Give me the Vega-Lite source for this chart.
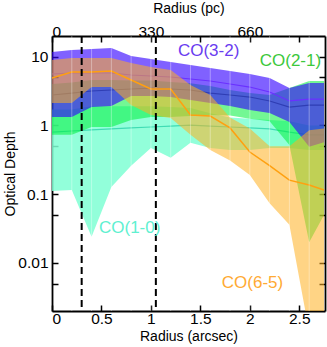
{
  "$schema": "https://vega.github.io/schema/vega-lite/v6.json",
  "width": 273,
  "height": 275,
  "autosize": "none",
  "padding": {"left": 52, "top": 36, "right": 2, "bottom": 36},
  "background": "white",
  "config": {
    "view": {"stroke": null},
    "axis": {
      "domainColor": "black", "domainWidth": 1.8,
      "tickColor": "black", "tickWidth": 1.5, "tickSize": -6,
      "labelFont": "Liberation Sans", "labelFontSize": 15.5, "labelColor": "black",
      "titleFont": "Liberation Sans", "titleFontSize": 14, "titleFontWeight": "normal", "titleColor": "black",
      "grid": false, "labelPadding": 6
    }
  },
  "datasets": {
    "bands": [
      {"series": "CO(1-0)", "x": 0, "lo": 0.111, "mid": 0.80, "hi": 1.7},
      {"series": "CO(1-0)", "x": 0.2, "lo": 0.115, "mid": 0.83, "hi": 1.7},
      {"series": "CO(1-0)", "x": 0.4, "lo": 0.024, "mid": 0.86, "hi": 1.9},
      {"series": "CO(1-0)", "x": 0.6, "lo": 0.127, "mid": 0.89, "hi": 1.9},
      {"series": "CO(1-0)", "x": 0.8, "lo": 0.26, "mid": 0.92, "hi": 1.9},
      {"series": "CO(1-0)", "x": 1.0, "lo": 0.47, "mid": 0.95, "hi": 1.9},
      {"series": "CO(1-0)", "x": 1.2, "lo": 0.34, "mid": 0.98, "hi": 1.85},
      {"series": "CO(1-0)", "x": 1.4, "lo": 0.56, "mid": 1.01, "hi": 1.8},
      {"series": "CO(1-0)", "x": 1.6, "lo": 0.47, "mid": 0.98, "hi": 1.5},
      {"series": "CO(1-0)", "x": 1.8, "lo": 0.44, "mid": 0.95, "hi": 1.3},
      {"series": "CO(1-0)", "x": 2.0, "lo": 0.44, "mid": 0.92, "hi": 1.25},
      {"series": "CO(1-0)", "x": 2.2, "lo": 0.47, "mid": 0.89, "hi": 1.2},
      {"series": "CO(1-0)", "x": 2.4, "lo": 0.47, "mid": 0.80, "hi": 1.15},
      {"series": "CO(1-0)", "x": 2.6, "lo": 0.44, "mid": 0.73, "hi": 1.0},
      {"series": "CO(1-0)", "x": 2.75, "lo": 0.44, "mid": 0.73, "hi": 1.0},

      {"series": "CO(2-1)", "x": 0, "lo": 0.73, "mid": 2.77, "hi": 4.0},
      {"series": "CO(2-1)", "x": 0.2, "lo": 0.73, "mid": 2.96, "hi": 4.2},
      {"series": "CO(2-1)", "x": 0.4, "lo": 0.95, "mid": 3.17, "hi": 4.6},
      {"series": "CO(2-1)", "x": 0.6, "lo": 0.95, "mid": 3.28, "hi": 4.6},
      {"series": "CO(2-1)", "x": 0.8, "lo": 1.20, "mid": 3.39, "hi": 4.5},
      {"series": "CO(2-1)", "x": 1.0, "lo": 1.33, "mid": 3.50, "hi": 4.5},
      {"series": "CO(2-1)", "x": 1.2, "lo": 1.33, "mid": 3.39, "hi": 4.3},
      {"series": "CO(2-1)", "x": 1.4, "lo": 1.37, "mid": 3.28, "hi": 4.1},
      {"series": "CO(2-1)", "x": 1.6, "lo": 1.42, "mid": 2.96, "hi": 3.75},
      {"series": "CO(2-1)", "x": 1.8, "lo": 1.40, "mid": 2.77, "hi": 3.28},
      {"series": "CO(2-1)", "x": 2.0, "lo": 1.25, "mid": 2.59, "hi": 2.96},
      {"series": "CO(2-1)", "x": 2.2, "lo": 1.15, "mid": 2.27, "hi": 2.77},
      {"series": "CO(2-1)", "x": 2.4, "lo": 0.52, "mid": 1.85, "hi": 3.50},
      {"series": "CO(2-1)", "x": 2.6, "lo": 0.020, "mid": 1.98, "hi": 4.43},
      {"series": "CO(2-1)", "x": 2.75, "lo": 0.050, "mid": 1.98, "hi": 4.43},

      {"series": "CO(3-2)", "x": 0, "lo": 1.33, "mid": 5.60, "hi": 11.7},
      {"series": "CO(3-2)", "x": 0.2, "lo": 1.33, "mid": 5.79, "hi": 12.5},
      {"series": "CO(3-2)", "x": 0.4, "lo": 1.85, "mid": 5.79, "hi": 12.9},
      {"series": "CO(3-2)", "x": 0.6, "lo": 1.92, "mid": 5.79, "hi": 13.4},
      {"series": "CO(3-2)", "x": 0.8, "lo": 2.68, "mid": 5.42, "hi": 10.2},
      {"series": "CO(3-2)", "x": 1.0, "lo": 2.68, "mid": 5.24, "hi": 9.26},
      {"series": "CO(3-2)", "x": 1.2, "lo": 2.59, "mid": 5.07, "hi": 8.37},
      {"series": "CO(3-2)", "x": 1.4, "lo": 2.35, "mid": 4.74, "hi": 7.57},
      {"series": "CO(3-2)", "x": 1.6, "lo": 2.12, "mid": 4.43, "hi": 6.85},
      {"series": "CO(3-2)", "x": 1.8, "lo": 1.92, "mid": 4.01, "hi": 6.19},
      {"series": "CO(3-2)", "x": 2.0, "lo": 1.68, "mid": 3.62, "hi": 5.60},
      {"series": "CO(3-2)", "x": 2.2, "lo": 1.52, "mid": 3.07, "hi": 4.90},
      {"series": "CO(3-2)", "x": 2.4, "lo": 1.12, "mid": 2.27, "hi": 3.50},
      {"series": "CO(3-2)", "x": 2.6, "lo": 0.49, "mid": 2.42, "hi": 4.14},
      {"series": "CO(3-2)", "x": 2.75, "lo": 0.57, "mid": 2.42, "hi": 4.14},

      {"series": "CO(6-5)", "x": 0, "lo": 2.12, "mid": 4.90, "hi": 8.95},
      {"series": "CO(6-5)", "x": 0.2, "lo": 2.12, "mid": 5.99, "hi": 9.57},
      {"series": "CO(6-5)", "x": 0.4, "lo": 3.62, "mid": 5.99, "hi": 9.57},
      {"series": "CO(6-5)", "x": 0.6, "lo": 3.62, "mid": 6.19, "hi": 9.57},
      {"series": "CO(6-5)", "x": 0.8, "lo": 1.98, "mid": 4.58, "hi": 8.09},
      {"series": "CO(6-5)", "x": 1.0, "lo": 1.42, "mid": 3.39, "hi": 7.08},
      {"series": "CO(6-5)", "x": 1.2, "lo": 1.28, "mid": 3.39, "hi": 6.41},
      {"series": "CO(6-5)", "x": 1.4, "lo": 0.73, "mid": 1.42, "hi": 3.88},
      {"series": "CO(6-5)", "x": 1.6, "lo": 0.44, "mid": 1.37, "hi": 2.77},
      {"series": "CO(6-5)", "x": 1.8, "lo": 0.31, "mid": 0.92, "hi": 1.30},
      {"series": "CO(6-5)", "x": 2.0, "lo": 0.19, "mid": 0.41, "hi": 0.90},
      {"series": "CO(6-5)", "x": 2.2, "lo": 0.074, "mid": 0.26, "hi": 0.50},
      {"series": "CO(6-5)", "x": 2.4, "lo": 0.036, "mid": 0.16, "hi": 0.50},
      {"series": "CO(6-5)", "x": 2.6, "lo": 0.001, "mid": 0.136, "hi": 0.85},
      {"series": "CO(6-5)", "x": 2.75, "lo": 0.001, "mid": 0.115, "hi": 0.90}
    ],
    "seams": [
      {"x": 0.2}, {"x": 0.4}, {"x": 0.6}, {"x": 0.8}, {"x": 1.0}, {"x": 1.2}, {"x": 1.4},
      {"x": 1.6}, {"x": 1.8}, {"x": 2.0}, {"x": 2.2}, {"x": 2.4}, {"x": 2.6}
    ],
    "dashes": [{"x": 0.3}, {"x": 1.05}],
    "labels": [
      {"label": "CO(3-2)", "x": 1.273, "y": 12.3},
      {"label": "CO(2-1)", "x": 2.10, "y": 8.66},
      {"label": "CO(1-0)", "x": 0.475, "y": 0.0320},
      {"label": "CO(6-5)", "x": 1.717, "y": 0.0051}
    ]
  },
  "resolve": {"axis": {"x": "independent", "y": "independent"}},
  "layer": [
    {
      "data": {"name": "bands"},
      "layer": [
        {
          "transform": [{"filter": "datum.series == 'CO(1-0)'"}],
          "mark": {"type": "area", "color": "#7fffd4", "opacity": 0.85, "clip": true},
          "encoding": {
            "x": {"field": "x", "type": "quantitative", "scale": {"domain": [0, 2.76], "nice": false, "zero": false},
                  "axis": {"orient": "bottom", "title": "Radius (arcsec)", "values": [0, 0.5, 1, 1.5, 2, 2.5], "format": "~g", "titlePadding": 3}},
            "y": {"field": "hi", "type": "quantitative", "scale": {"type": "log", "domain": [0.002, 20], "nice": false},
                  "axis": {"orient": "left", "title": "Optical Depth", "values": [0.005, 0.01, 0.05, 0.1, 0.5, 1, 5, 10],
                           "labelExpr": "datum.value == 10 ? '10' : datum.value == 1 ? '1' : datum.value == 0.1 ? '0.1' : datum.value == 0.01 ? '0.01' : ''", "labelPadding": 10, "titlePadding": 0}},
            "y2": {"field": "lo"}
          }
        },
        {
          "transform": [{"filter": "datum.series == 'CO(1-0)'"}],
          "mark": {"type": "line", "color": "#3fdcb4", "strokeWidth": 1.2, "clip": true},
          "encoding": {"x": {"field": "x", "type": "quantitative"}, "y": {"field": "mid", "type": "quantitative"}}
        },
        {
          "transform": [{"filter": "datum.series == 'CO(2-1)'"}],
          "mark": {"type": "area", "color": "#00f03c", "opacity": 0.55, "clip": true},
          "encoding": {"x": {"field": "x", "type": "quantitative"}, "y": {"field": "hi", "type": "quantitative"}, "y2": {"field": "lo"}}
        },
        {
          "transform": [{"filter": "datum.series == 'CO(2-1)'"}],
          "mark": {"type": "line", "color": "#2aa03a", "strokeWidth": 1.2, "clip": true},
          "encoding": {"x": {"field": "x", "type": "quantitative"}, "y": {"field": "mid", "type": "quantitative"}}
        },
        {
          "transform": [{"filter": "datum.series == 'CO(3-2)'"}],
          "mark": {"type": "area", "color": "#3200ff", "opacity": 0.62, "clip": true},
          "encoding": {"x": {"field": "x", "type": "quantitative"}, "y": {"field": "hi", "type": "quantitative"}, "y2": {"field": "lo"}}
        },
        {
          "transform": [{"filter": "datum.series == 'CO(3-2)'"}],
          "mark": {"type": "line", "color": "#6a30ff", "strokeWidth": 1.2, "clip": true},
          "encoding": {"x": {"field": "x", "type": "quantitative"}, "y": {"field": "mid", "type": "quantitative"}}
        },
        {
          "transform": [{"filter": "datum.series == 'CO(6-5)'"}],
          "mark": {"type": "area", "color": "#ffb020", "opacity": 0.55, "clip": true},
          "encoding": {"x": {"field": "x", "type": "quantitative"}, "y": {"field": "hi", "type": "quantitative"}, "y2": {"field": "lo"}}
        },
        {
          "transform": [{"filter": "datum.series == 'CO(6-5)'"}],
          "mark": {"type": "line", "color": "#ffa010", "strokeWidth": 1.5, "clip": true},
          "encoding": {"x": {"field": "x", "type": "quantitative"}, "y": {"field": "mid", "type": "quantitative"}}
        },
        {
          "data": {"name": "seams"},
          "mark": {"type": "rule", "color": "white", "opacity": 0.35, "strokeWidth": 1},
          "encoding": {"x": {"field": "x", "type": "quantitative"}}
        },
        {
          "data": {"name": "dashes"},
          "mark": {"type": "rule", "color": "black", "strokeWidth": 2, "strokeDash": [7, 4]},
          "encoding": {"x": {"field": "x", "type": "quantitative"}}
        }
      ]
    },
    {
      "data": {"name": "labels"},
      "mark": {"type": "text", "align": "left", "baseline": "middle", "font": "Liberation Sans", "fontSize": 17},
      "encoding": {
        "x": {"field": "x", "type": "quantitative",
              "axis": {"orient": "top", "title": "Radius (pc)", "values": [0, 0.5, 1, 1.5, 2, 2.5],
                       "labelExpr": "datum.value == 0 ? '0' : datum.value == 1 ? '330' : datum.value == 2 ? '660' : ''", "labelPadding": 3, "titlePadding": 9}},
        "y": {"field": "y", "type": "quantitative",
              "axis": {"orient": "right", "title": null, "labels": false, "values": [0.005, 0.01, 0.05, 0.1, 0.5, 1, 5, 10]}},
        "text": {"field": "label"},
        "color": {"field": "label", "type": "nominal", "legend": null,
                  "scale": {"domain": ["CO(3-2)", "CO(2-1)", "CO(1-0)", "CO(6-5)"], "range": ["#6a3cf0", "#3cc83c", "#60f0d0", "#ffaa33"]}}
      }
    }
  ]
}
